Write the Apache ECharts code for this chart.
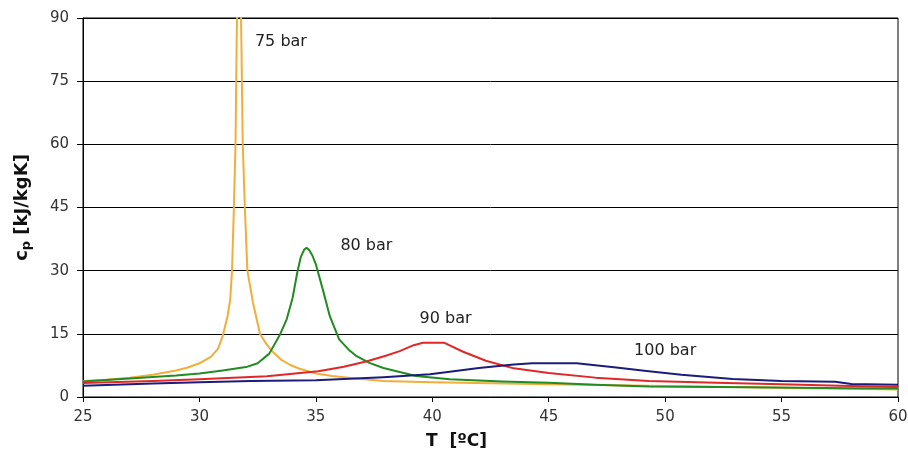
<!DOCTYPE html>
<html>
<head>
<meta charset="utf-8">
<script src="https://cdn.jsdelivr.net/npm/echarts@6/dist/echarts.min.js"></script>
<style>html,body{margin:0;padding:0;background:#fff}#c{width:908px;height:457px}</style>
</head>
<body>
<div id="c"></div>
<script>
// ---- data (T in °C, cp in kJ/kgK) ----
var xTicks = [25, 30, 35, 40, 45, 50, 55, 60];
var yTicks = [0, 15, 30, 45, 60, 75, 90];

var t75  = [25, 26, 27, 28, 29, 29.5, 30, 30.5, 30.8, 31.0, 31.2, 31.32, 31.4, 31.48, 31.55, 31.6, 31.7, 31.8, 31.86, 31.95, 32.06, 32.3, 32.6, 32.85, 33.1, 33.5, 33.9, 34.3, 35.0, 35.7, 36.5, 37.9, 40, 45, 50, 55, 60];
var cp75 = [3.8, 4.1, 4.6, 5.3, 6.3, 7.0, 8.0, 9.6, 11.5, 14.5, 19, 23, 30, 45, 60, 85, 120, 85, 60, 45, 30, 22.4, 15, 12.8, 11.0, 8.9, 7.6, 6.7, 5.6, 5.0, 4.5, 3.8, 3.5, 3.0, 2.6, 2.2, 1.8];

var t80  = [25, 27, 29, 30, 31, 32, 32.5, 33.0, 33.45, 33.75, 34.0, 34.2, 34.35, 34.5, 34.6, 34.7, 34.85, 35.0, 35.3, 35.6, 36.0, 36.4, 36.75, 37.3, 37.9, 39.3, 40.75, 43, 45, 47, 49.3, 53.6, 57.9, 60];
var cp80 = [3.7, 4.4, 5.1, 5.6, 6.3, 7.1, 8.0, 10.3, 14.7, 18.5, 23.5, 29.5, 33.2, 35.0, 35.4, 35.0, 33.6, 31.5, 25.5, 19.2, 13.7, 11.3, 9.7, 8.1, 6.9, 5.0, 4.2, 3.7, 3.4, 2.9, 2.5, 2.3, 2.1, 2.0];

var t90  = [25, 28, 30, 32.9, 35.1, 36.2, 37.2, 38.0, 38.6, 39.2, 39.6, 40.5, 41.3, 42.3, 43.5, 45, 47, 49.3, 52.2, 55, 57.5, 60];
var cp90 = [3.3, 3.8, 4.2, 4.9, 6.1, 7.2, 8.5, 9.8, 10.9, 12.3, 12.9, 12.9, 10.8, 8.6, 6.8, 5.7, 4.6, 3.8, 3.4, 3.0, 2.7, 2.4];

var t100  = [25, 28, 30, 32.2, 35, 37.9, 39.9, 40.75, 42.0, 43.5, 44.3, 46.2, 47.9, 49.2, 50.7, 52.9, 55, 57.3, 58, 60];
var cp100 = [2.7, 3.2, 3.5, 3.8, 4.0, 4.7, 5.4, 6.0, 6.9, 7.7, 8.0, 8.0, 7.0, 6.2, 5.3, 4.3, 3.8, 3.6, 3.1, 2.9];

var seriesNames = ['75 bar', '80 bar', '90 bar', '100 bar'];
var seriesColors = ['#F2AE3A', '#228B22', '#E02828', '#1C1C7A'];
// label anchor points (T, cp) for the curve annotations
var labelT  = [33.5, 37.17, 40.57, 50.0];
var labelCp = [84.4, 36.0, 18.6, 10.9];

function pairs(xs, ys) { return xs.map(function (x, i) { return [x, ys[i]]; }); }
var allT = [t75, t80, t90, t100];
var allCp = [cp75, cp80, cp90, cp100];

var FONT = 'DejaVu Sans';
var chart = echarts.init(document.getElementById('c'), null, {renderer: 'canvas'});

var series = seriesNames.map(function (name, i) {
  return {
    name: name,
    type: 'line',
    data: pairs(allT[i], allCp[i]),
    showSymbol: false,
    smooth: false,
    clip: true,
    lineStyle: {color: seriesColors[i], width: 2, join: 'round'},
    itemStyle: {color: seriesColors[i]},
    z: 3,
    markPoint: {
      symbol: 'circle',
      symbolSize: 0,
      silent: true,
      data: [{coord: [labelT[i], labelCp[i]]}],
      label: {
        show: true,
        position: 'inside',
        formatter: name,
        color: '#222',
        fontFamily: FONT,
        fontSize: 16
      }
    }
  };
});

chart.setOption({
  animation: false,
  backgroundColor: '#fff',
  grid: {left: 83, right: 10, top: 18, bottom: 60, containLabel: false, outerBoundsMode: 'none',
         show: true, borderColor: '#000', borderWidth: 1, backgroundColor: 'transparent'},
  xAxis: {
    type: 'value',
    min: xTicks[0],
    max: xTicks[xTicks.length - 1],
    interval: 5,
    name: 'T  [ºC]',
    nameLocation: 'middle',
    nameGap: 36,
    nameTextStyle: {fontFamily: FONT, fontWeight: 'bold', fontSize: 17, color: '#111', padding: [0, 68, 0, 0]},
    axisLine: {show: true, lineStyle: {color: '#000', width: 1}},
    axisTick: {show: true, length: 5, lineStyle: {color: '#000'}},
    axisLabel: {margin: 13, fontFamily: FONT, fontSize: 15, color: '#333'},
    splitLine: {show: false}
  },
  yAxis: {
    type: 'value',
    min: yTicks[0],
    max: yTicks[yTicks.length - 1],
    interval: 15,
    name: '{c|c}{p|p}{u| [kJ/kgK]}',
    nameLocation: 'middle',
    nameGap: 50,
    nameRotate: 90,
    nameTextStyle: {
      rich: {
        c: {fontFamily: FONT, fontWeight: 'bold', fontSize: 18, color: '#111'},
        p: {fontFamily: FONT, fontWeight: 'bold', fontSize: 13, color: '#111', padding: [9, 0, 0, 0]},
        u: {fontFamily: FONT, fontWeight: 'bold', fontSize: 18, color: '#111'}
      }
    },
    axisLine: {show: true, lineStyle: {color: '#000', width: 1}},
    axisTick: {show: true, length: 6, lineStyle: {color: '#000'}},
    axisLabel: {margin: 14, fontFamily: FONT, fontSize: 15, color: '#333'},
    splitLine: {show: true, lineStyle: {color: '#000', width: 1}}
  },
  series: series
});
</script>
</body>
</html>
